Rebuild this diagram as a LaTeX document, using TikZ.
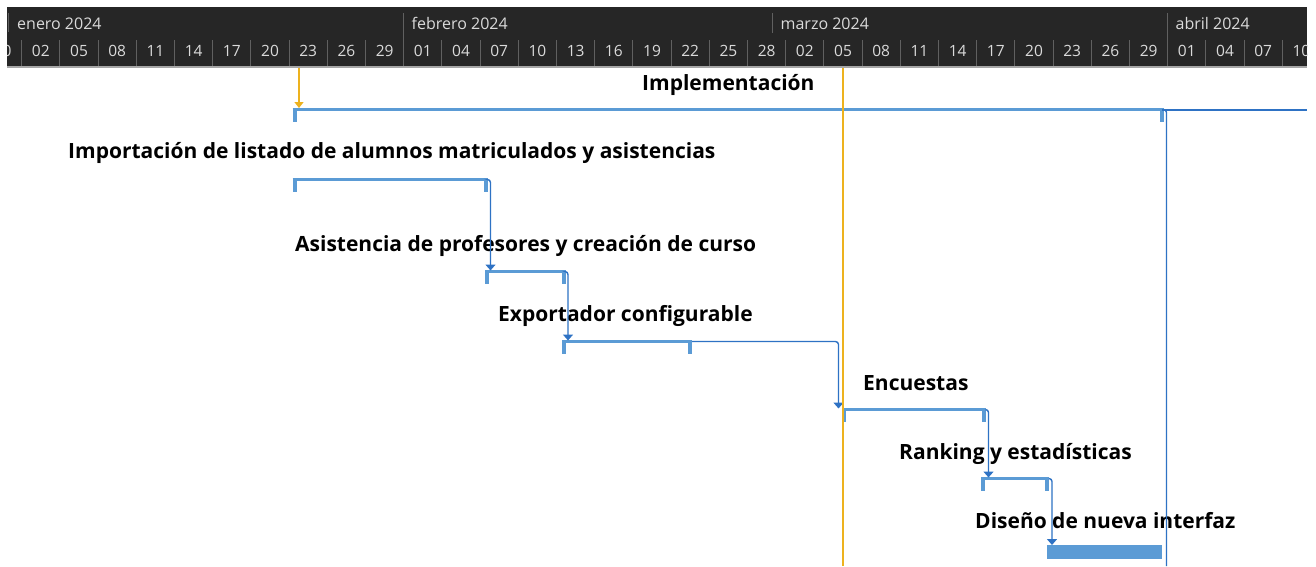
\documentclass[tikz,border=0pt]{standalone}
\usepackage{fontspec}
\setmainfont{Open Sans}
\usetikzlibrary{arrows.meta}
\definecolor{hdrbg}{HTML}{262626}
\definecolor{hdrtxt}{HTML}{DADADA}
\definecolor{hdrsep}{HTML}{606060}
\definecolor{hdrline}{HTML}{A6A6A6}
\definecolor{sumblue}{HTML}{5B9BD5}
\definecolor{lnkblue}{HTML}{2E72C4}
\definecolor{today}{HTML}{EDB21E}
\tikzset{
  monthlbl/.style={anchor=base west, inner sep=0, text=hdrtxt, font=\fontsize{16}{16}\selectfont},
  daylbl/.style={anchor=base, inner sep=0, text=hdrtxt, font=\fontsize{15.5}{16}\selectfont},
  tasklbl/.style={anchor=base west, inner sep=0, text=black, font=\fontsize{21}{22}\selectfont\bfseries},
  sepline/.style={draw=hdrsep, line width=1pt},
  sumline/.style={draw=sumblue, line width=2.6pt},
  sumtick/.style={fill=sumblue},
  link/.style={draw=lnkblue, line width=1.4pt, rounded corners=3pt},
  linkarrow/.style={link, -{Triangle[width=10pt,length=6pt]}},
  todayline/.style={draw=today, line width=1.3pt},
}
\newcommand\bracketbar[4]{% name, x1, x2, y
  \coordinate (#1s) at (#2,#4);
  \coordinate (#1e) at (#3,#4);
  \draw[sumline] (#1s) -- (#1e);
  \fill[sumtick] (#2,#4-1.3) rectangle ++(4,13.5);
  \fill[sumtick] (#3-4,#4-1.3) rectangle ++(4,13.5);
}
\begin{document}
\begin{tikzpicture}[x=1pt,y=-1pt]
\useasboundingbox (0,0) rectangle (1316,566);
\fill[white] (0,0) rectangle (1316,566);
% header
\fill[hdrbg] (7,7) rectangle (1307,66.5);
\begin{scope}
\clip (7,7) rectangle (1307,66.5);
\foreach \d/\l in {-2/30,1/02,4/05,7/08,10/11,13/14,16/17,19/20,22/23,25/26,28/29,31/01,34/04,37/07,40/10,43/13,46/16,49/19,52/22,55/25,58/28,61/02,64/05,67/08,70/11,73/14,76/17,79/20,82/23,85/26,88/29,91/01,94/04,97/07,100/10}{
  \node[daylbl] (day\d) at ({9+12.733*\d+19.1},56.5) {\l};
  \draw[sepline] ({9+12.733*\d},40) -- ({9+12.733*\d},66);
}
\end{scope}
\draw[sepline] (8,13) -- (8,32);
\draw[sepline] (403.7,13) -- (403.7,66);
\draw[sepline] (772.8,13) -- (772.8,33);
\draw[sepline] (1167.7,13) -- (1167.7,66);
\node[monthlbl] (mjan) at (17,29.5) {enero 2024};
\node[monthlbl] (mfeb) at (411.5,29.5) {febrero 2024};
\node[monthlbl] (mmar) at (780.5,29.5) {marzo 2024};
\node[monthlbl] (mapr) at (1175.5,29.5) {abril 2024};
\draw[draw=hdrline, line width=1.5pt] (7,67.2) -- (1307,67.2);

% labels
\node[tasklbl] (limpl) at (642,90) {Implementación};
\node[tasklbl] (limp) at (68,158.5) {Importación de listado de alumnos matriculados y asistencias};
\node[tasklbl] (lasis) at (295,251.5) {Asistencia de profesores y creación de curso};
\node[tasklbl] (lexp) at (498,321.5) {Exportador configurable};
\node[tasklbl] (lenc) at (863,390.5) {Encuestas};
\node[tasklbl] (lrank) at (899,459.5) {Ranking y estadísticas};
\node[tasklbl] (ldis) at (975,528.5) {Diseño de nueva interfaz};

% bars
\bracketbar{impl}{292.5}{1163.5}{109.5}
\bracketbar{ta}{292.5}{488}{179.5}
\bracketbar{tb}{485}{565.5}{271.5}
\bracketbar{tc}{562}{692}{341.5}
\bracketbar{td}{842}{985.5}{409.5}
\bracketbar{te}{981}{1049}{478.5}
\node[fill=sumblue, inner sep=0, minimum width=115pt, minimum height=14pt, anchor=north west] (tf) at (1047,545) {};

% links
\coordinate (implR) at (1307,110);
\coordinate (implD) at (1166.5,566);
\coordinate (tfin) at (1052,545);
\draw[link] (1162,110) -- (implR);
\draw[link] (imple) -- (1166.5,109.5) -- (implD);
\draw[linkarrow] (tae) -- (490.5,179.5) -- (490.5,270.5);
\draw[linkarrow] (tbe) -- (568,271.5) -- (568,340.5);
\draw[linkarrow] (tce) -- (838.5,341.5) -- (838.5,408.5);
\draw[linkarrow] (tde) -- (988.5,409.5) -- (988.5,477.5);
\draw[linkarrow] (tee) -- (1052,478.5) -- (tfin);

% today line and start marker
\coordinate (todayTop) at (843,67.5);
\coordinate (todayBot) at (843,566);
\draw[todayline] (todayTop) -- (todayBot);
\coordinate (startTop) at (299,67.5);
\draw[todayline, -{Triangle[width=9pt,length=6pt]}] (startTop) -- (299,108);
\end{tikzpicture}
\end{document}
